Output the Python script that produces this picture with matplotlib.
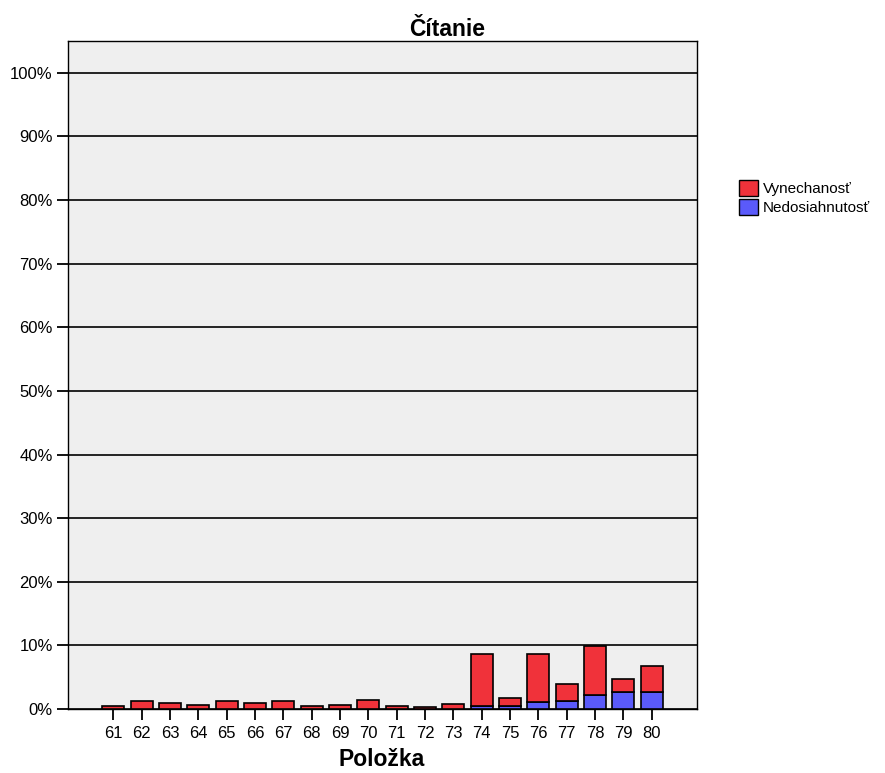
"""Stacked bars of omitted / not reached answers per item (Čítanie)."""

import matplotlib.pyplot as plt
from matplotlib.patches import Patch

plt.rcParams["font.family"] = ["Liberation Sans", "DejaVu Sans"]

items = [str(i) for i in range(61, 81)]
# percent of students
not_reached = [0, 0, 0, 0, 0, 0, 0, 0, 0, 0,
               0, 0, 0, 0.45, 0.5, 1.15, 1.2, 2.2, 2.6, 2.6]
omitted_total = [0.4, 1.3, 0.9, 0.7, 1.25, 0.9, 1.2, 0.4, 0.65, 1.45,
                 0.45, 0.3, 0.8, 8.6, 1.75, 8.6, 3.9, 9.9, 4.7, 6.7]
omitted = [t - n for t, n in zip(omitted_total, not_reached)]

RED = "#f0323a"
BLUE = "#5a5afa"

fig = plt.figure(figsize=(8.85, 7.73), dpi=100)
ax = fig.add_axes([68 / 885, 1 - 709 / 773, 629 / 885, 668 / 773])
ax.set_facecolor("#efefef")

x = list(range(len(items)))
ax.bar(x, not_reached, width=0.78, color=BLUE, edgecolor="black", linewidth=1.2, zorder=3)
ax.bar(x, omitted, width=0.78, bottom=not_reached, color=RED, edgecolor="black",
       linewidth=1.2, zorder=3)

ax.set_xlim(-1.6, len(items) - 1 + 1.6)
ax.set_ylim(0, 105)
ax.set_yticks(range(0, 101, 10))
ax.set_yticklabels([f"{v}%" for v in range(0, 101, 10)])
ax.set_xticks(x)
ax.set_xticklabels(items)
ax.yaxis.grid(True, color="black", linewidth=1.2, zorder=1)
ax.set_axisbelow(True)
ax.tick_params(axis="both", labelsize=12, length=8, width=1.3, color="black")
ax.tick_params(axis="x", pad=4)
ax.tick_params(axis="y", pad=3)
for s in ax.spines.values():
    s.set_linewidth(1)

fig.text(447 / 885, 1 - 36.5 / 773, "Čítanie", fontsize=16.5, fontweight="bold",
         ha="center", va="baseline")
fig.text(382 / 885, 1 - 766 / 773, "Položka", fontsize=16.5, fontweight="bold",
         ha="center", va="baseline")

handles = [Patch(facecolor=RED, edgecolor="black", label="Vynechanosť"),
           Patch(facecolor=BLUE, edgecolor="black", label="Nedosiahnutosť")]
fig.legend(handles=handles, loc="upper left", bbox_to_anchor=(739 / 885, 1 - 180 / 773),
           frameon=False, fontsize=11, handlelength=1.25, handleheight=1.2,
           handletextpad=0.3, labelspacing=0.2, borderaxespad=0, borderpad=0)

fig.savefig("out.png", dpi=100)
